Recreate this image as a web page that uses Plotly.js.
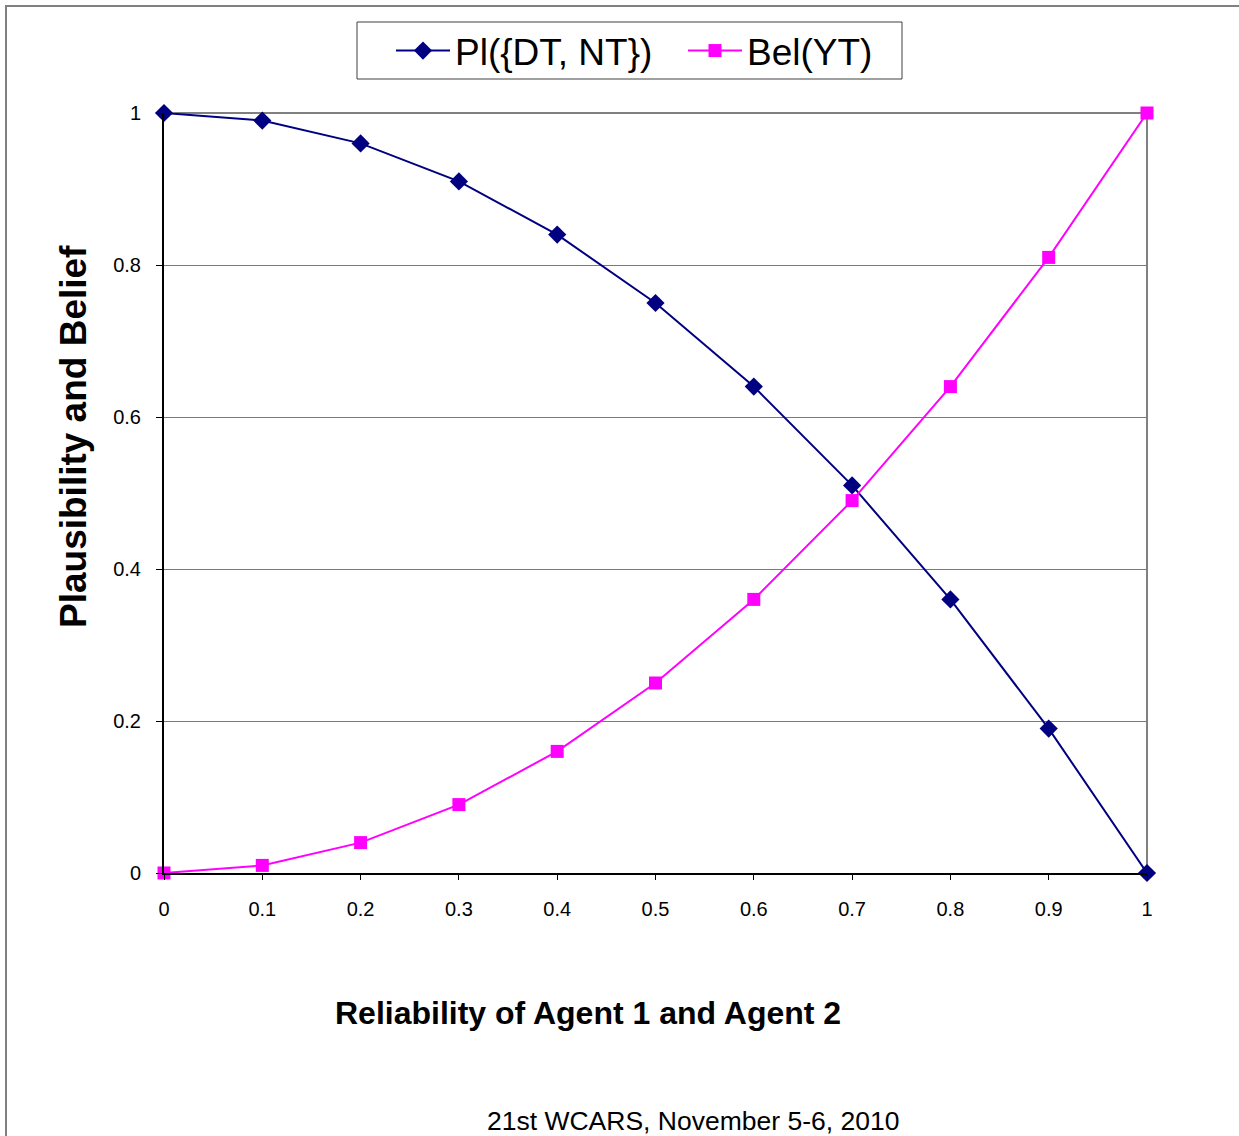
<!DOCTYPE html>
<html>
<head>
<meta charset="utf-8">
<script src="https://cdn.plot.ly/plotly-3.0.1.min.js"></script>
<style>
html, body { margin: 0; padding: 0; background: #fff; overflow: hidden; }
#wrap { position: relative; width: 1239px; height: 1136px; }
#frame { position: absolute; left: 5px; top: 5px; width: 1300px; height: 1300px; border: 2px solid #808080; box-sizing: border-box; pointer-events: none; z-index: 5; }
#chart { position: absolute; left: 0; top: 0; width: 1239px; height: 1136px; }
</style>
</head>
<body>
<div id="wrap">
<div id="chart"></div>
<div id="frame"></div>
</div>
<script>
const reliability = [0, 0.1, 0.2, 0.3, 0.4, 0.5, 0.6, 0.7, 0.8, 0.9, 1];
const plausibility = [1, 0.99, 0.96, 0.91, 0.84, 0.75, 0.64, 0.51, 0.36, 0.19, 0];
const belief = [0, 0.01, 0.04, 0.09, 0.16, 0.25, 0.36, 0.49, 0.64, 0.81, 1];
const xTickVals = [0, 0.1, 0.2, 0.3, 0.4, 0.5, 0.6, 0.7, 0.8, 0.9, 1];
const xTickText = ['0', '0.1', '0.2', '0.3', '0.4', '0.5', '0.6', '0.7', '0.8', '0.9', '1'];
const yTickVals = [0, 0.2, 0.4, 0.6, 0.8, 1];
const yTickText = ['0', '0.2', '0.4', '0.6', '0.8', '1'];

const FONT = 'Liberation Sans, Arial, sans-serif';
const L = 164, T = 113, W = 983, H = 760;
const px = v => (v - L) / W;
const py = v => (T + H - v) / H;

const traces = [
  {
    x: reliability, y: plausibility, name: 'Pl({DT, NT})',
    type: 'scatter', mode: 'lines+markers', cliponaxis: false,
    line: { color: '#000080', width: 2 },
    marker: { symbol: 'diamond', size: 14, color: '#000080' }
  },
  {
    x: reliability, y: belief, name: 'Bel(YT)',
    type: 'scatter', mode: 'lines+markers', cliponaxis: false,
    line: { color: '#FF00FF', width: 2 },
    marker: { symbol: 'square', size: 13, color: '#FF00FF' }
  }
];

const layout = {
  width: 1239, height: 1136,
  margin: { l: 164, r: 92, t: 113, b: 263 },
  paper_bgcolor: '#ffffff', plot_bgcolor: '#ffffff',
  font: { family: FONT, color: '#000' },
  showlegend: true,
  legend: {
    orientation: 'h', x: px(391), xanchor: 'left', y: py(51), yanchor: 'middle',
    bgcolor: 'rgba(0,0,0,0)', borderwidth: 0,
    font: { family: FONT, size: 37, color: '#000' },
    itemwidth: 54, entrywidth: 223, entrywidthmode: 'pixels'
  },
  xaxis: {
    range: [0, 1], tickvals: xTickVals, ticktext: xTickText,
    ticks: 'outside', ticklen: 5, tickcolor: '#000', tickwidth: 1,
    ticklabelstandoff: 12,
    showline: true, linecolor: '#000', linewidth: 2,
    showgrid: false, zeroline: false,
    tickfont: { family: FONT, size: 20, color: '#000' }
  },
  yaxis: {
    range: [0, 1], tickvals: yTickVals, ticktext: yTickText,
    ticks: 'outside', ticklen: 6, tickcolor: '#000', tickwidth: 1,
    ticklabelstandoff: 11,
    showline: true, linecolor: '#000', linewidth: 2,
    showgrid: true, gridcolor: '#7a7a7a', gridwidth: 1,
    zeroline: false,
    tickfont: { family: FONT, size: 20, color: '#000' }
  },
  shapes: [
    { type: 'line', xref: 'paper', yref: 'paper', x0: 0, x1: 1, y0: 1, y1: 1, line: { color: '#808080', width: 2 }, layer: 'below' },
    { type: 'line', xref: 'paper', yref: 'paper', x0: 1, x1: 1, y0: 0, y1: 1, line: { color: '#808080', width: 2 }, layer: 'below' },
    { type: 'rect', xref: 'paper', yref: 'paper', x0: px(357), x1: px(902), y0: py(79), y1: py(22), line: { color: '#404040', width: 1 }, fillcolor: 'rgba(0,0,0,0)', layer: 'above' }
  ],
  annotations: [
    { text: '<b>Reliability of Agent 1 and Agent 2</b>', xref: 'paper', yref: 'paper',
      x: px(588), y: py(1013), xanchor: 'center', yanchor: 'middle',
      showarrow: false, font: { family: FONT, size: 32, color: '#000' } },
    { text: '<b>Plausibility and Belief</b>', xref: 'paper', yref: 'paper',
      x: px(73), y: py(437), xanchor: 'center', yanchor: 'middle',
      textangle: -90, showarrow: false, font: { family: FONT, size: 37, color: '#000' } },
    { text: '21st WCARS, November 5-6, 2010', xref: 'paper', yref: 'paper',
      x: px(693), y: py(1121), xanchor: 'center', yanchor: 'middle',
      showarrow: false, font: { family: FONT, size: 26.5, color: '#000' } }
  ]
};

Plotly.newPlot('chart', traces, layout, { displayModeBar: false, staticPlot: true });
</script>
</body>
</html>
